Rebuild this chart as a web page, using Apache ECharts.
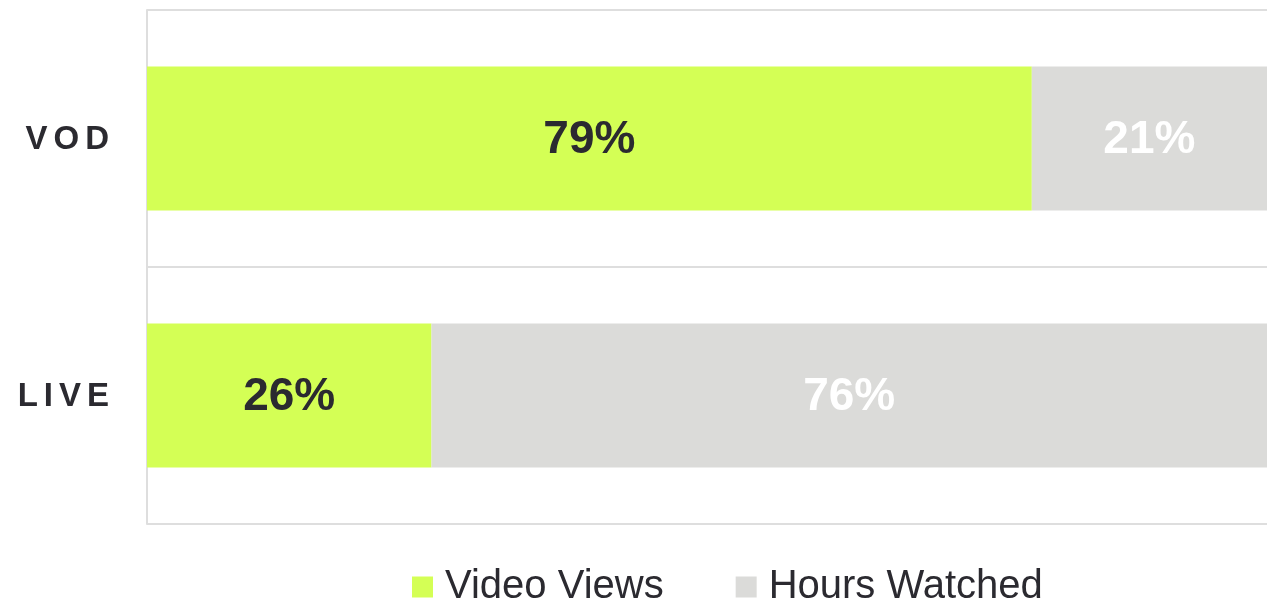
<!DOCTYPE html>
<html>
<head>
<meta charset="utf-8">
<script src="https://cdn.jsdelivr.net/npm/echarts@6/dist/echarts.min.js"></script>
<style>
  html, body { margin: 0; padding: 0; background: #fff; }
  #chart { width: 1267px; height: 601px; }
</style>
</head>
<body>
<div id="chart"></div>
<script>
// data
const categories = ['VOD', 'LIVE'];
const seriesNames = ['Video Views', 'Hours Watched'];
const videoViews = [79, 25.4];
const hoursWatched = [21, 74.6];
const videoViewsLabels = ['79%', '26%'];
const hoursWatchedLabels = ['21%', '76%'];

const green = '#d4ff55';
const grey = '#dbdbd9';
const ink = '#2b2a30';
const lineColor = '#dedede';

const chart = echarts.init(document.getElementById('chart'));

const option = {
    animation: false,
    textStyle: { fontFamily: 'Liberation Sans, Arial, sans-serif' },
    grid: { left: 147, right: 0, top: 10, bottom: 77, containLabel: false },
    legend: {
        data: seriesNames,
        left: 407,
        top: 562,
        icon: 'rect',
        itemWidth: 21,
        itemHeight: 21,
        itemGap: 72,
        textStyle: { fontSize: 40, color: ink, padding: [0, 0, 0, 7] }
    },
    xAxis: {
        type: 'value',
        min: 0,
        max: 100,
        show: false
    },
    yAxis: {
        type: 'category',
        data: categories,
        inverse: true,
        axisLine: { show: true, lineStyle: { color: lineColor, width: 2 } },
        axisTick: { show: false },
        splitLine: { show: true, lineStyle: { color: lineColor, width: 2 } },
        axisLabel: {
            margin: 35,
            formatter: function(v) {
                return v.split('').map(c => '{l|' + c + '}').join('');
            },
            rich: {
                l: { fontSize: 33, fontWeight: 'bold', color: ink, padding: [3, 3, 0, 3] }
            }
        }
    },
    series: [{
        name: seriesNames[0],
        type: 'bar',
        stack: 'total',
        barWidth: 144,
        data: videoViews,
        itemStyle: { color: green },
        label: {
            show: true,
            position: 'inside',
            offset: [0, 2],
            formatter: p => videoViewsLabels[p.dataIndex],
            fontSize: 46,
            fontWeight: 'bold',
            color: ink
        }
    }, {
        name: seriesNames[1],
        type: 'bar',
        stack: 'total',
        barWidth: 144,
        data: hoursWatched,
        itemStyle: { color: grey },
        label: {
            show: true,
            position: 'inside',
            offset: [0, 2],
            formatter: p => hoursWatchedLabels[p.dataIndex],
            fontSize: 46,
            fontWeight: 'bold',
            color: '#ffffff'
        }
    }]
};
chart.setOption(option);
</script>
</body>
</html>
